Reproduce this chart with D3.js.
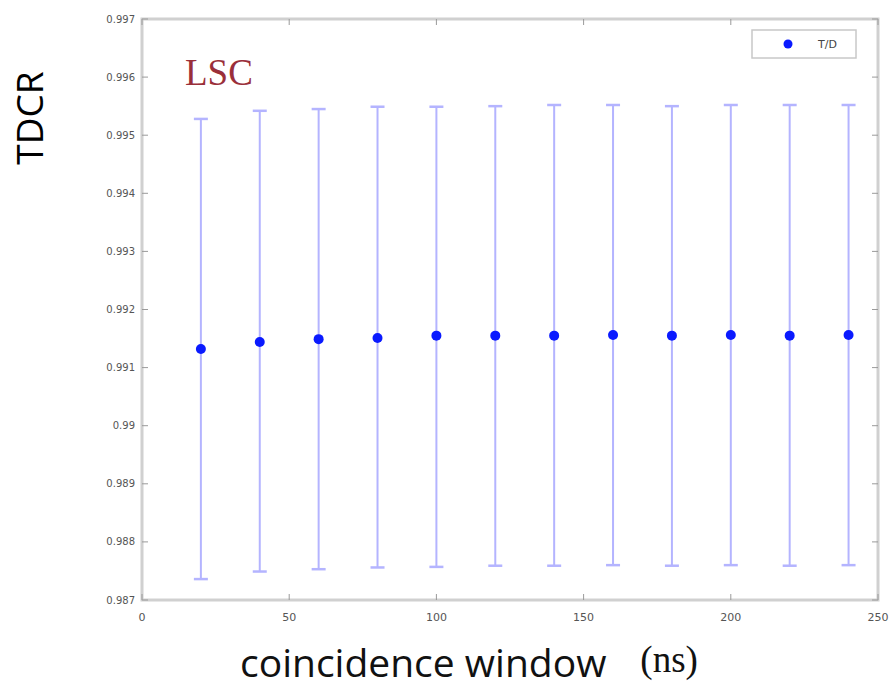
<!DOCTYPE html>
<html>
<head>
<meta charset="utf-8">
<script src="https://cdn.jsdelivr.net/npm/d3@7"></script>
<style>
  body { margin: 0; background: #fff; }
  svg { display: block; }
</style>
</head>
<body>
<svg id="chart" width="895" height="689"></svg>
<script>
// coincidence window (ns)
const windows = [20, 40, 60, 80, 100, 120, 140, 160, 180, 200, 220, 240];
// T/D ratio
const tdcr = [0.99132, 0.99144, 0.99149, 0.99151, 0.99155, 0.99155, 0.99155, 0.99156, 0.99155, 0.99156, 0.99155, 0.99156];
// error bar ends
const upper = [0.99528, 0.99542, 0.99545, 0.99549, 0.99549, 0.99550, 0.99552, 0.99552, 0.99550, 0.99552, 0.99552, 0.99552];
const lower = [0.98736, 0.98749, 0.98753, 0.98756, 0.98757, 0.98759, 0.98759, 0.98760, 0.98759, 0.98760, 0.98759, 0.98760];

const xTicks = [0, 50, 100, 150, 200, 250];
const yTicks = [0.987, 0.988, 0.989, 0.99, 0.991, 0.992, 0.993, 0.994, 0.995, 0.996, 0.997];

const margin = {top: 19, right: 17, bottom: 89, left: 142};
const width = 895 - margin.left - margin.right;
const height = 689 - margin.top - margin.bottom;

const svg = d3.select('#chart');
const g = svg.append('g')
    .attr('transform', `translate(${margin.left},${margin.top})`);

const x = d3.scaleLinear().domain([0, 250]).range([0, width]);
const y = d3.scaleLinear().domain([0.987, 0.997]).range([height, 0]);

const data = windows.map((w, i) => ({w, v: tdcr[i], hi: upper[i], lo: lower[i]}));

// frame
g.append('rect')
    .attr('width', width).attr('height', height)
    .attr('fill', 'none')
    .attr('stroke', '#d0d0d0')
    .attr('stroke-width', 3);

const tickColor = '#9a9a9a';
const labelColor = '#555';

// bottom / top ticks
const xAxisG = g.append('g').attr('transform', `translate(0,${height})`);
xAxisG.selectAll('line.tb').data(xTicks).join('line')
    .attr('x1', d => x(d)).attr('x2', d => x(d))
    .attr('y1', 0).attr('y2', -6)
    .attr('stroke', tickColor).attr('stroke-width', 1);
g.selectAll('line.tt').data(xTicks).join('line')
    .attr('x1', d => x(d)).attr('x2', d => x(d))
    .attr('y1', 0).attr('y2', 6)
    .attr('stroke', tickColor).attr('stroke-width', 1);
xAxisG.selectAll('text').data(xTicks).join('text')
    .attr('x', d => x(d)).attr('y', 21)
    .attr('text-anchor', 'middle')
    .attr('font-family', 'DejaVu Sans, sans-serif')
    .attr('font-size', 11)
    .attr('fill', labelColor)
    .text(d => d);

// left / right ticks
g.selectAll('line.yl').data(yTicks).join('line')
    .attr('x1', 0).attr('x2', 6)
    .attr('y1', d => y(d)).attr('y2', d => y(d))
    .attr('stroke', tickColor);
g.selectAll('line.yr').data(yTicks).join('line')
    .attr('x1', width).attr('x2', width - 6)
    .attr('y1', d => y(d)).attr('y2', d => y(d))
    .attr('stroke', tickColor);
g.append('g').selectAll('text').data(yTicks).join('text')
    .attr('x', -7).attr('y', d => y(d))
    .attr('dy', '0.35em')
    .attr('text-anchor', 'end')
    .attr('font-family', 'DejaVu Sans, sans-serif')
    .attr('font-size', 10)
    .attr('fill', labelColor)
    .text(d => d3.format('.3~f')(d));

// error bars
const barColor = '#b4b4ff';
const eb = g.append('g');
eb.selectAll('line.v').data(data).join('line')
    .attr('x1', d => x(d.w)).attr('x2', d => x(d.w))
    .attr('y1', d => y(d.hi)).attr('y2', d => y(d.lo))
    .attr('stroke', barColor).attr('stroke-width', 2);
eb.selectAll('line.hi').data(data).join('line')
    .attr('x1', d => x(d.w) - 7).attr('x2', d => x(d.w) + 7)
    .attr('y1', d => y(d.hi)).attr('y2', d => y(d.hi))
    .attr('stroke', barColor).attr('stroke-width', 2.5);
eb.selectAll('line.lo').data(data).join('line')
    .attr('x1', d => x(d.w) - 7).attr('x2', d => x(d.w) + 7)
    .attr('y1', d => y(d.lo)).attr('y2', d => y(d.lo))
    .attr('stroke', barColor).attr('stroke-width', 2.5);

// points
g.selectAll('circle.pt').data(data).join('circle')
    .attr('cx', d => x(d.w)).attr('cy', d => y(d.v))
    .attr('r', 5)
    .attr('fill', '#0a1aff');

// legend
const leg = g.append('g').attr('transform', `translate(${width - 126},11)`);
leg.append('rect')
    .attr('width', 104).attr('height', 28)
    .attr('fill', '#fff')
    .attr('stroke', '#c8c8c8').attr('stroke-width', 1.5);
leg.append('circle').attr('cx', 36).attr('cy', 14).attr('r', 4.5).attr('fill', '#0a1aff');
leg.append('text')
    .attr('x', 66).attr('y', 14).attr('dy', '0.35em')
    .attr('font-family', 'DejaVu Sans, sans-serif')
    .attr('font-size', 11).attr('fill', '#444')
    .text('T/D');

// LSC label
g.append('text')
    .attr('x', 43).attr('y', 66)
    .attr('font-family', 'Liberation Serif, serif')
    .attr('font-size', 37)
    .attr('fill', '#9a2f3a')
    .text('LSC');

// axis titles
svg.append('text')
    .attr('transform', 'translate(43,118) rotate(-90)')
    .attr('text-anchor', 'middle')
    .attr('font-family', 'Open Sans, sans-serif')
    .attr('font-size', 37)
    .attr('fill', '#000')
    .text('TDCR');

const xt = svg.append('text')
    .attr('x', 240).attr('y', 677)
    .attr('font-family', 'Open Sans, sans-serif')
    .attr('font-size', 39)
    .attr('fill', '#111');
xt.append('tspan').text('coincidence window');
xt.append('tspan')
    .attr('dx', 34).attr('dy', -5)
    .attr('font-family', 'Liberation Serif, serif')
    .attr('font-size', 37)
    .text('(ns)');
</script>
</body>
</html>
